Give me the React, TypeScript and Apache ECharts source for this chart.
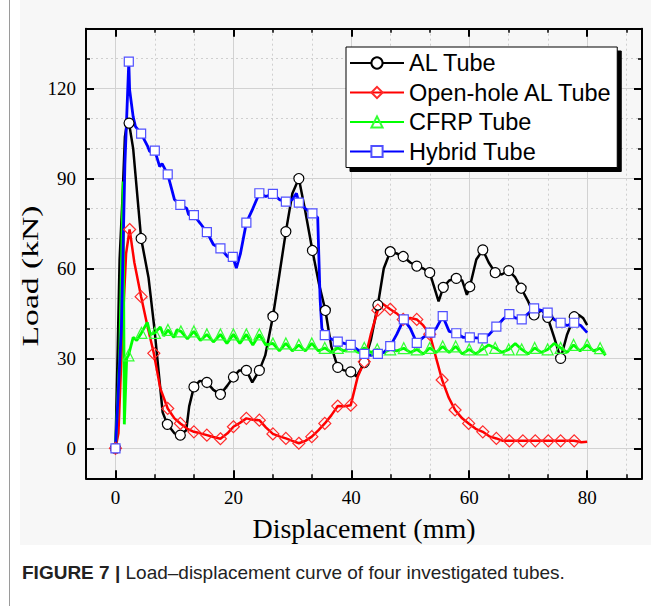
import React, { useEffect, useRef } from "react";
import * as echarts from "echarts";

const xMajor = [0, 20, 40, 60, 80];
const xMinor = [6.667, 13.333, 26.667, 33.333, 46.667, 53.333, 66.667, 73.333, 86.667];
const yMajor = [0, 30, 60, 90, 120];
const yMinor = [10, 20, 40, 50, 70, 80, 100, 110, 130];

// [displacement, load, marker(1)/no marker(0)]
const alTube = [
  [0, 0, 1], [0.4, 35, 0], [0.7, 63, 0], [1.2, 84, 0], [1.6, 104, 0], [2.0, 109, 0], [2.3, 108.5, 1], [3.0, 100, 0],
  [4.35, 70, 1], [5.6, 57, 0], [6.6, 40, 0], [7.4, 24, 0], [8.0, 12, 0], [8.8, 8, 1], [10, 5, 0], [11, 4.4, 1],
  [12, 6, 0], [12.5, 14, 0], [13.3, 20.5, 1], [14.3, 22.5, 0], [15.5, 22, 1], [16.6, 19.5, 0], [17.8, 18, 1],
  [19, 21, 0], [20, 23.8, 1], [21, 26, 0], [22.2, 26, 1], [23.2, 22, 0], [24.4, 26, 1], [25.4, 31, 0],
  [26.7, 44, 1], [27.8, 58, 0], [28.9, 72.3, 1], [30, 85, 0], [31.1, 90, 1], [32.2, 79, 0], [33.4, 66, 1],
  [34.5, 55, 0], [35.6, 46, 1], [36.6, 34, 0], [37.7, 27, 1], [38.8, 26, 0], [39.9, 25.5, 1], [40.9, 24, 0],
  [42.2, 28.6, 1], [43.3, 36, 0], [44.5, 47.8, 1], [45.5, 60, 0], [46.6, 65.6, 1], [47.7, 65, 0], [48.8, 64, 1],
  [50, 62, 0], [51.1, 60.8, 1], [52.2, 60, 0], [53.3, 58.6, 1], [54.8, 49, 0], [55.6, 53.7, 1], [56.6, 56, 0],
  [57.8, 56.7, 1], [58.8, 56, 0], [59.6, 51.2, 0], [60.1, 53.9, 1], [61.2, 63, 0], [62.3, 66.2, 1], [63.3, 62, 0],
  [64.4, 58.6, 1], [65.5, 58, 0], [66.7, 59.3, 1], [67.8, 57, 0], [68.8, 53.4, 1], [70, 49, 0], [71.0, 44.5, 1],
  [72.3, 46.1, 0], [73.3, 43.7, 1], [74.4, 37, 0], [75.5, 30, 1], [76.6, 38, 0], [77.8, 43.9, 1], [78.6, 44.5, 0],
  [79.3, 43.5, 0], [80, 41.1, 0],
];

const openHoleTube = [
  [0, 0, 1], [0.5, 5, 0], [1.2, 40, 0], [1.8, 65, 0], [2.4, 73, 1], [3.2, 62, 0], [4.35, 50.6, 1], [5.4, 41, 0],
  [6.5, 31.7, 1], [7.6, 20, 0], [8.86, 13.3, 1], [10, 10, 0], [11, 8.3, 1], [12.2, 6.5, 0], [13.3, 5.5, 1],
  [14.4, 5, 0], [15.5, 4.4, 1], [16.6, 3.8, 0], [17.8, 3.2, 1], [19, 5, 0], [20, 7.2, 1], [21.1, 8.5, 0],
  [22.2, 10, 1], [23.3, 9.5, 0], [24.4, 9.4, 1], [25.5, 7, 0], [26.7, 4.8, 1], [27.8, 4, 0], [28.9, 3.3, 1],
  [30, 2.5, 0], [31.1, 1.7, 1], [32.2, 2.5, 0], [33.3, 3.9, 1], [34.4, 6, 0], [35.5, 8.3, 1], [36.6, 11, 0],
  [37.7, 14.1, 1], [38.8, 14, 0], [39.9, 14.4, 1], [41.1, 24, 0], [42.2, 28.9, 1], [43.3, 38, 0], [44.5, 46.1, 1],
  [45.2, 48.4, 0], [46.6, 46.4, 1], [47.7, 45, 0], [48.8, 43, 1], [50, 43.5, 0], [51.1, 43, 1], [52.2, 41, 0],
  [53.3, 38.1, 1], [54.4, 30, 0], [55.4, 22.8, 1], [56.5, 17, 0], [57.6, 12.8, 1], [58.8, 10, 0], [59.9, 8.3, 1],
  [61.1, 6.5, 0], [62.3, 5.5, 1], [63.4, 4, 0], [64.6, 3.3, 1], [65.7, 2.5, 0], [66.8, 2.5, 1], [69.1, 2.5, 1],
  [71.2, 2.5, 1], [73.4, 2.5, 1], [75.5, 2.5, 1], [77.8, 2.5, 1], [79, 2, 0], [80, 2.2, 0],
];

const cfrpTube = [
  [0, 0, 0], [0.7, 30, 0], [1.3, 89, 0], [1.5, 8, 0], [1.9, 30, 0], [2.2, 31, 1], [3.0, 37, 0], [3.6, 36, 0],
  [4.4, 38.5, 1], [5.4, 42, 0], [5.9, 38, 0], [6.7, 38.5, 1], [7.6, 40.5, 0], [8.2, 37.5, 0], [8.9, 39.5, 1],
  [9.9, 37, 0], [10.4, 39.5, 0], [11.1, 39, 1], [12.2, 36.5, 0], [13.3, 39, 1], [14.4, 36, 0], [15.5, 38, 1],
  [16.6, 35.5, 0], [17.8, 38, 1], [18.9, 35, 0], [20, 38, 1], [21.1, 35, 0], [22.2, 38, 1], [23.3, 34.5, 0],
  [24.4, 38, 1], [25.5, 34.5, 0], [26.7, 35, 1], [27.8, 32.5, 0], [28.9, 35, 1], [30, 32.5, 0], [31.1, 34.5, 1],
  [32.2, 32.5, 0], [33.3, 35, 1], [34.4, 32.5, 0], [35.5, 33.5, 1], [36.6, 32, 0], [37.7, 33.5, 1], [38.8, 32.5, 0],
  [40, 34, 1], [41.1, 32, 0], [42.2, 33.5, 1], [43.3, 32, 0], [44.4, 33, 1], [45.5, 32, 0], [46.6, 33, 1],
  [47.7, 32.5, 0], [48.9, 33.4, 1], [50, 32, 0], [51.1, 33, 1], [52.2, 31.5, 0], [53.3, 33.5, 1], [54.4, 32, 0],
  [55.5, 34, 1], [56.6, 32, 0], [57.7, 34, 1], [58.8, 31.5, 0], [60, 33, 1], [61.1, 31.5, 0], [62.2, 33, 1],
  [63.3, 34.5, 0], [64.4, 33.5, 1], [65.5, 32, 0], [66.7, 33, 1], [67.8, 35, 0], [68.9, 33, 1], [70, 31.5, 0],
  [71.1, 33.5, 1], [72.2, 32, 0], [73.3, 33, 1], [74.4, 35, 0], [75.5, 33.5, 1], [76.6, 32, 0], [77.7, 34.5, 1],
  [78.8, 32.5, 0], [80, 34.5, 1], [81.1, 32.5, 0], [82.2, 33.4, 1], [83.1, 31, 0],
];

const hybridTube = [
  [0, 0, 1], [1.0, 40, 0], [1.6, 95, 0], [2.26, 129, 1], [2.4, 119.6, 0], [3.0, 110.6, 0], [3.4, 107.3, 0],
  [4.35, 105, 1], [5.4, 101, 0], [5.8, 99, 0], [6.67, 99.3, 1], [7.5, 94, 0], [7.9, 95, 0], [8.86, 91.4, 1],
  [9.6, 86, 0], [10, 83, 0], [11, 81.2, 1], [12.1, 80, 0], [12.4, 78, 0], [13.3, 77.8, 1], [14.4, 75, 0],
  [15.5, 72.1, 1], [16.6, 68, 0], [17.8, 66.7, 1], [19, 64, 0], [19.9, 63.9, 1], [20.5, 60.1, 0], [21.2, 65, 0],
  [22.2, 75.3, 1], [23.3, 80, 0], [24.4, 85.1, 1], [25.5, 84, 0], [26.7, 84.9, 1], [27.8, 83, 0], [28.9, 82.3, 1],
  [30, 83, 0], [30.7, 85.1, 0], [31.1, 82, 1], [32.2, 80, 0], [33.4, 78.4, 1], [34.3, 77, 0], [34.7, 50, 0],
  [35.0, 40, 0], [35.5, 37.8, 1], [36.6, 36.5, 0], [37.7, 35.6, 1], [38.8, 35, 0], [39.9, 34.5, 1], [41, 33, 0],
  [42.2, 31.5, 1], [43.3, 31, 0], [44.5, 31.5, 1], [45.5, 32, 0], [46.6, 34.1, 1], [47.7, 38, 0], [48.9, 43, 1],
  [50, 40, 0], [51.1, 35.2, 1], [52.2, 37, 0], [53.4, 38.6, 1], [54.4, 40, 0], [55.5, 44.1, 1], [56.6, 39, 0],
  [57.8, 38.4, 1], [59, 37, 0], [60.1, 37, 1], [62.3, 36.7, 1], [63.4, 38, 0], [64.6, 40.6, 1], [65.7, 43, 0],
  [66.8, 44.8, 1], [67.8, 43.5, 0], [68.9, 43, 1], [70, 45, 0], [71, 46.7, 1], [72.2, 46, 0], [73.3, 45.3, 1],
  [74.4, 43, 0], [75.5, 41.9, 1], [76.6, 41, 0], [77.8, 41.9, 1], [78.9, 41, 0], [80, 38.6, 0],
];

const seriesNames = ["AL Tube", "Open-hole AL Tube", "CFRP Tube", "Hybrid Tube"];

const toData = (pts: number[][]) =>
  pts.map(([x, y, m]) => (m ? [x, y] : { value: [x, y], symbol: "none" }));

const serif = '"Liberation Serif", "Times New Roman", serif';
const sans = '"Liberation Sans", Arial, sans-serif';

export default function App() {
  const ref = useRef<HTMLDivElement>(null);
  useEffect(() => {
    if (!ref.current) return;
    const chart = echarts.init(ref.current, undefined, { renderer: "svg" });
    const xBase = { type: "value" as const, min: -5, max: 89.3, gridIndex: 0 };
    const yBase = { type: "value" as const, min: -10, max: 140, gridIndex: 0 };
    const axisLine = { show: true, onZero: false, lineStyle: { color: "#000", width: 2 } };
    const majorTick = (vals: number[]) => ({
      show: true, inside: true, length: 8, customValues: vals, lineStyle: { color: "#000", width: 2 },
    });
    const minorTick = (vals: number[]) => ({
      show: true, inside: true, length: 4, customValues: vals, lineStyle: { color: "#000", width: 1.5 },
    });
    const solidGrid = { show: true, lineStyle: { color: "#d2d2d2", width: 1, type: "solid" as const } };
    const dotGrid = { show: true, lineStyle: { color: "#cfcfcf", width: 1, type: [2, 3] as any } };

    const lineSeries = (name: string, pts: number[][], color: string, symbol: string, size: number, fill: string, border: string, width: number) => ({
      name,
      type: "line" as const,
      data: toData(pts),
      xAxisIndex: 0,
      yAxisIndex: 0,
      symbol,
      symbolSize: size,
      showAllSymbol: true,
      lineStyle: { color, width },
      itemStyle: { color: fill, borderColor: border, borderWidth: 1.2 },
      emphasis: { disabled: true },
    });

    chart.setOption({
      animation: false,
      grid: { left: 86, top: 28.7, right: 9, bottom: 127.7 },
      graphic: [
        { type: "rect", z: -100, silent: true, shape: { x: 20, y: 0, width: 631, height: 545 }, style: { fill: "#f7f7f7" } },
        { type: "line", z: -100, silent: true, shape: { x1: 9.5, y1: 0, x2: 9.5, y2: 606 }, style: { stroke: "#9a9a9a", lineWidth: 1 } },
        {
          type: "text", x: 30, y: 276, rotation: Math.PI / 2, scaleX: 1.4,
          style: { text: "Load (kN)", font: `24px ${serif}`, fill: "#000", align: "center", verticalAlign: "middle" },
        },
        {
          type: "text", x: 22, y: 572,
          style: {
            text: "{b|FIGURE 7 |} Load–displacement curve of four investigated tubes.",
            font: `19px ${sans}`, fill: "#222", verticalAlign: "middle",
            rich: { b: { fontWeight: "bold", fontSize: 19, fontFamily: sans, fill: "#222" } },
          },
        },
      ],
      legend: {
        data: seriesNames,
        orient: "vertical",
        left: 346,
        top: 47,
        itemWidth: 54,
        itemHeight: 14,
        itemGap: 5.5,
        padding: [4, 4, 4, 3],
        align: "left",
        backgroundColor: "#fff",
        borderColor: "#000",
        borderWidth: 1,
        borderRadius: 0,
        shadowColor: "#000",
        shadowBlur: 0,
        shadowOffsetX: 4,
        shadowOffsetY: 4,
        textStyle: { fontFamily: sans, fontSize: 23.5, color: "#000" },
        selectedMode: false,
      },
      xAxis: [
        {
          ...xBase, position: "bottom", axisLine, axisTick: majorTick(xMajor),
          axisLabel: { customValues: xMajor, color: "#000", fontFamily: serif, fontSize: 19, margin: 10 },
          splitLine: solidGrid,
          name: "Displacement (mm)", nameLocation: "middle", nameGap: 36,
          nameTextStyle: { fontFamily: serif, fontSize: 28, color: "#000" },
        },
        { ...xBase, position: "bottom", axisLine: { show: false, onZero: false }, axisTick: minorTick(xMinor), axisLabel: { show: false }, splitLine: dotGrid },
        { ...xBase, position: "top", axisLine, axisTick: majorTick(xMajor), axisLabel: { show: false }, splitLine: { show: false } },
        { ...xBase, position: "top", axisLine: { show: false, onZero: false }, axisTick: minorTick(xMinor), axisLabel: { show: false }, splitLine: { show: false } },
      ],
      yAxis: [
        {
          ...yBase, position: "left", axisLine, axisTick: majorTick(yMajor),
          axisLabel: { customValues: yMajor, color: "#000", fontFamily: serif, fontSize: 19, margin: 10 },
          splitLine: solidGrid,
        },
        { ...yBase, position: "left", axisLine: { show: false, onZero: false }, axisTick: minorTick(yMinor), axisLabel: { show: false }, splitLine: dotGrid },
        { ...yBase, position: "right", axisLine, axisTick: majorTick(yMajor), axisLabel: { show: false }, splitLine: { show: false } },
        { ...yBase, position: "right", axisLine: { show: false, onZero: false }, axisTick: minorTick(yMinor), axisLabel: { show: false }, splitLine: { show: false } },
      ],
      series: [
        lineSeries(seriesNames[0], alTube, "#000000", "circle", 10, "#ffffff", "#000000", 2.5),
        lineSeries(seriesNames[1], openHoleTube, "#ff0000", "diamond", 12, "rgba(255,255,255,0)", "#ff2a2a", 2.5),
        lineSeries(seriesNames[2], cfrpTube, "#00ff00", "triangle", 11, "rgba(255,255,255,0)", "#33ff33", 2.8),
        lineSeries(seriesNames[3], hybridTube, "#0000ff", "rect", 9, "#ffffff", "#5050ff", 2.8),
      ],
    });
    return () => chart.dispose();
  }, []);
  return (
    <div style={{ position: "absolute", left: 0, top: 0, width: 651, height: 606, background: "#fff" }}>
      <div ref={ref} style={{ width: 651, height: 606 }} />
    </div>
  );
}
